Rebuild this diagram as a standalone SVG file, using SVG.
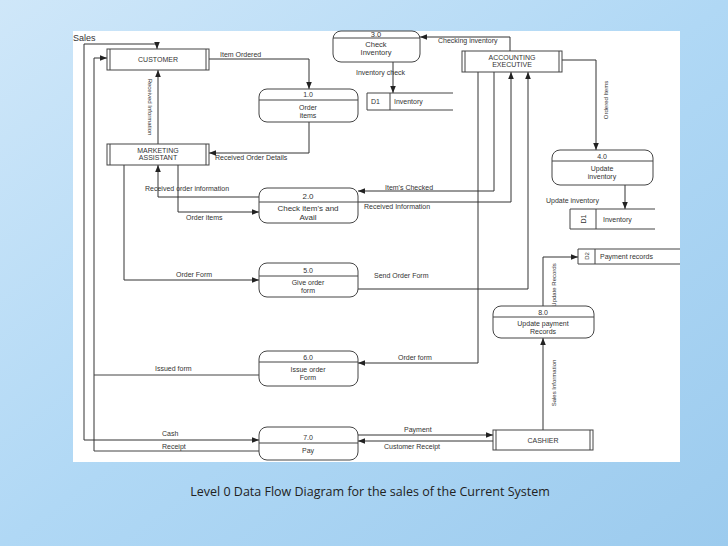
<svg xmlns="http://www.w3.org/2000/svg" width="728" height="546" viewBox="0 0 728 546">
<defs>
<linearGradient id="bg" x1="0" y1="0" x2="1" y2="1"><stop offset="0" stop-color="#cfe7f9"/><stop offset="0.5" stop-color="#b0d8f5"/><stop offset="1" stop-color="#9ccbee"/></linearGradient>
<marker id="a" viewBox="0 0 10 10" refX="10" refY="5" markerWidth="7" markerHeight="7" orient="auto" markerUnits="userSpaceOnUse"><path d="M0,1 L10,5 L0,9 Z" fill="#222"/></marker>
<style>
.t{font-family:"Liberation Sans",Arial,sans-serif;font-size:7px;fill:#333}
.b{fill:#fff;stroke:#444;stroke-width:1}
.l{fill:none;stroke:#444;stroke-width:1}
.la{fill:none;stroke:#333;stroke-width:1;marker-end:url(#a)}
</style>
</defs>
<rect width="728" height="546" fill="url(#bg)"/>
<rect x="73" y="31" width="607" height="431" fill="#fff"/>
<text x="73" y="41" class="t" style="font-size:9px">Sales</text>
<g id="connectors">
<path class="la" d="M84,440 V44 H157 V49"/>
<path class="la" d="M94,451 V58 H107"/>
<path class="la" d="M209,59 H309 V89"/>
<path class="la" d="M158,144 V70"/>
<path class="la" d="M309,122 V153 H209"/>
<path class="la" d="M259,197 H158 V165"/>
<path class="la" d="M178,165 V212 H259"/>
<path class="la" d="M124,165 V280 H259"/>
<path class="la" d="M510,51 V37 H420"/>
<path class="la" d="M393,62 V93"/>
<path class="la" d="M494,72 V191 H358"/>
<path class="la" d="M358,202 H511 V72"/>
<path class="la" d="M478,72 V363 H358"/>
<path class="la" d="M358,289 H528 V72"/>
<path class="la" d="M562,60 H596 V150"/>
<path class="la" d="M625,185 V209"/>
<path class="l" d="M259,375 H94"/>
<path class="la" d="M84,440 H259"/>
<path class="l" d="M259,451 H94"/>
<path class="la" d="M358,435 H493"/>
<path class="la" d="M493,441 H358"/>
<path class="la" d="M543,430 V338"/>
<path class="la" d="M543,306 V257 H578"/>
</g>
<g id="labels" class="t">
<text x="220" y="57">Item Ordered</text>
<text x="215" y="160">Received Order Details</text>
<text x="145" y="191">Received order information</text>
<text x="186" y="220">Order items</text>
<text x="356" y="75">Inventory check</text>
<text x="438" y="43">Checking inventory</text>
<text x="385" y="190">Item's Checked</text>
<text x="364" y="209">Received Information</text>
<text x="176" y="277">Order Form</text>
<text x="374" y="278">Send Order Form</text>
<text x="398" y="360">Order form</text>
<text x="155" y="371">Issued form</text>
<text x="162" y="436">Cash</text>
<text x="162" y="449">Receipt</text>
<text x="404" y="432">Payment</text>
<text x="384" y="449">Customer Receipt</text>
<text x="546" y="203">Update inventory</text>
<text transform="translate(148,107) rotate(90)" text-anchor="middle" style="font-size:6px">Received Information</text>
<text transform="translate(608,100) rotate(-90)" text-anchor="middle" style="font-size:6px">Ordered Items</text>
<text transform="translate(556,285) rotate(-90)" text-anchor="middle" style="font-size:6px">Update Records</text>
<text transform="translate(556,383) rotate(-90)" text-anchor="middle" style="font-size:6px">Sales Information</text>
</g>
<g id="customer"><rect class="b" x="107" y="49" width="102" height="21"/><path class="l" d="M110,49V70M206,49V70"/><text class="t" x="158" y="62" text-anchor="middle">CUSTOMER</text></g>
<g id="marketing"><rect class="b" x="107" y="144" width="102" height="21"/><path class="l" d="M110,144V165M206,144V165"/><text class="t" x="158" y="153" text-anchor="middle">MARKETING</text><text class="t" x="158" y="160" text-anchor="middle">ASSISTANT</text></g>
<g id="accounting"><rect class="b" x="462" y="51" width="100" height="21"/><path class="l" d="M465,51V72M559,51V72"/><text class="t" x="512" y="60" text-anchor="middle">ACCOUNTING</text><text class="t" x="512" y="67" text-anchor="middle">EXECUTIVE</text></g>
<g id="cashier"><rect class="b" x="493" y="430" width="100" height="20"/><path class="l" d="M496,430V450M590,430V450"/><text class="t" x="543" y="443" text-anchor="middle">CASHIER</text></g>
<g id="p1"><rect class="b" x="259" y="89" width="99" height="33" rx="8"/><path class="l" d="M259,100H358"/><g class="t" text-anchor="middle"><text x="308" y="97">1.0</text><text x="308" y="110">Order</text><text x="308" y="118">items</text></g></g>
<g id="p2"><rect class="b" x="259" y="188" width="99" height="35" rx="8"/><path class="l" d="M259,202H358"/><g class="t" text-anchor="middle" style="font-size:8px"><text x="308" y="199">2.0</text><text x="308" y="211">Check item's and</text><text x="308" y="220">Avail</text></g></g>
<g id="p3"><rect class="b" x="333" y="31" width="87" height="31" rx="8"/><path class="l" d="M333,38H420"/><g class="t" text-anchor="middle" style="font-size:7.5px"><text x="376" y="37">3.0</text><text x="376" y="47">Check</text><text x="376" y="55">Inventory</text></g></g>
<g id="p4"><rect class="b" x="552" y="150" width="101" height="35" rx="8"/><path class="l" d="M552,161H653"/><g class="t" text-anchor="middle"><text x="602" y="159">4.0</text><text x="602" y="171">Update</text><text x="602" y="179">inventory</text></g></g>
<g id="p5"><rect class="b" x="259" y="263" width="99" height="34" rx="8"/><path class="l" d="M259,276H358"/><g class="t" text-anchor="middle"><text x="308" y="273">5.0</text><text x="308" y="285">Give order</text><text x="308" y="293">form</text></g></g>
<g id="p6"><rect class="b" x="259" y="351" width="99" height="35" rx="8"/><path class="l" d="M259,362H358"/><g class="t" text-anchor="middle"><text x="308" y="360">6.0</text><text x="308" y="372">Issue order</text><text x="308" y="380">Form</text></g></g>
<g id="p7"><rect class="b" x="259" y="427" width="99" height="33" rx="8"/><path class="l" d="M259,443H358"/><g class="t" text-anchor="middle"><text x="308" y="440">7.0</text><text x="308" y="453">Pay</text></g></g>
<g id="p8"><rect class="b" x="493" y="306" width="101" height="32" rx="8"/><path class="l" d="M493,317H594"/><g class="t" text-anchor="middle"><text x="543" y="315">8.0</text><text x="543" y="326">Update payment</text><text x="543" y="334">Records</text></g></g>
<g id="d1a"><path class="l" d="M453,93H367V110H453M390,93V110"/><text class="t" x="371" y="104">D1</text><text class="t" x="394" y="104">Inventory</text></g>
<g id="d1b"><path class="l" d="M655,209H570V229H655M596,209V229"/><text class="t" transform="translate(586,219) rotate(-90)" text-anchor="middle">D1</text><text class="t" x="603" y="222">Inventory</text></g>
<g id="d2"><path class="l" d="M680,249H578V264H680M595,249V264"/><text class="t" transform="translate(589,256) rotate(-90)" text-anchor="middle" style="font-size:6px">D2</text><text class="t" x="600" y="259">Payment records</text></g>
<text x="370" y="496" text-anchor="middle" style="font-family:'Open Sans','Liberation Sans',sans-serif;font-size:12.5px;fill:#222">Level 0 Data Flow Diagram for the sales of the Current System</text>
</svg>
